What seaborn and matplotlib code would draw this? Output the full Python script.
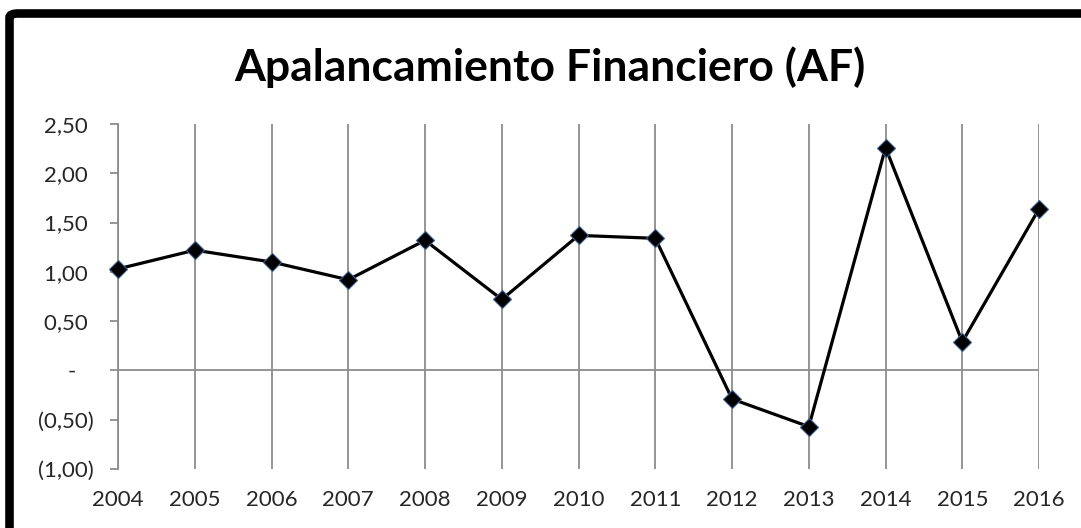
import pandas as pd
import matplotlib.pyplot as plt
import matplotlib.patches as patches
import seaborn as sns

# datos
years = [2004, 2005, 2006, 2007, 2008, 2009, 2010, 2011, 2012, 2013, 2014, 2015, 2016]
af = [1.03, 1.22, 1.10, 0.92, 1.32, 0.72, 1.37, 1.34, -0.29, -0.57, 2.26, 0.29, 1.64]
y_ticks = [-1.0, -0.5, 0.0, 0.5, 1.0, 1.5, 2.0, 2.5]
y_labels = ["(1,00)", "(0,50)", "-   ", "0,50 ", "1,00 ", "1,50 ", "2,00 ", "2,50 "]

df = pd.DataFrame({"Año": years, "AF": af})

sns.set_style("white")
plt.rcParams['font.family'] = ['Lato', 'DejaVu Sans']

fig = plt.figure(figsize=(10.81, 5.28), dpi=100)
ax = fig.add_axes([0.1092, 0.1117, 0.9612 - 0.1092, 0.7652 - 0.1117])

grid_c = '#8c8c8c'
for yr in years:
    ax.axvline(yr, color=grid_c, lw=1.3, zorder=1)
ax.axhline(0, color=grid_c, lw=1.3, zorder=1)

sns.lineplot(data=df, x="Año", y="AF", color='black', lw=2.3, marker='D',
             markersize=9, markerfacecolor='black', markeredgecolor='#3a5f8f',
             markeredgewidth=0.8, ax=ax, zorder=3, clip_on=False)

ax.set_xlim(2004, 2016)
ax.set_ylim(-1, 2.5)
ax.set_xticks(years)
ax.set_xticklabels([str(y) for y in years])
ax.set_yticks(y_ticks)
ax.set_yticklabels(y_labels)
ax.set_xlabel("")
ax.set_ylabel("")

for s in ['top', 'right', 'bottom']:
    ax.spines[s].set_visible(False)
ax.spines['left'].set_color(grid_c)
ax.spines['left'].set_linewidth(1.3)
ax.tick_params(axis='y', left=True, length=5.5, width=1.3, color=grid_c,
               pad=12, labelsize=16, labelcolor='#262626')
ax.tick_params(axis='x', bottom=False, length=0, pad=15, labelsize=16,
               labelcolor='#262626')

fig.text(0.509, 0.873, "Apalancamiento Financiero (AF)", ha='center', va='center',
         fontsize=32, fontweight='bold', color='black')

# marco negro (solo visible arriba e izquierda)
border = patches.FancyBboxPatch((9.5 / 1081, -0.5), 2, 1 - 13.5 / 528 + 0.5,
                                boxstyle="round,pad=0,rounding_size=0.008",
                                transform=fig.transFigure, fill=False,
                                lw=6.2, ec='black', clip_on=False)
fig.patches.append(border)

fig.savefig("out.png", dpi=100)
